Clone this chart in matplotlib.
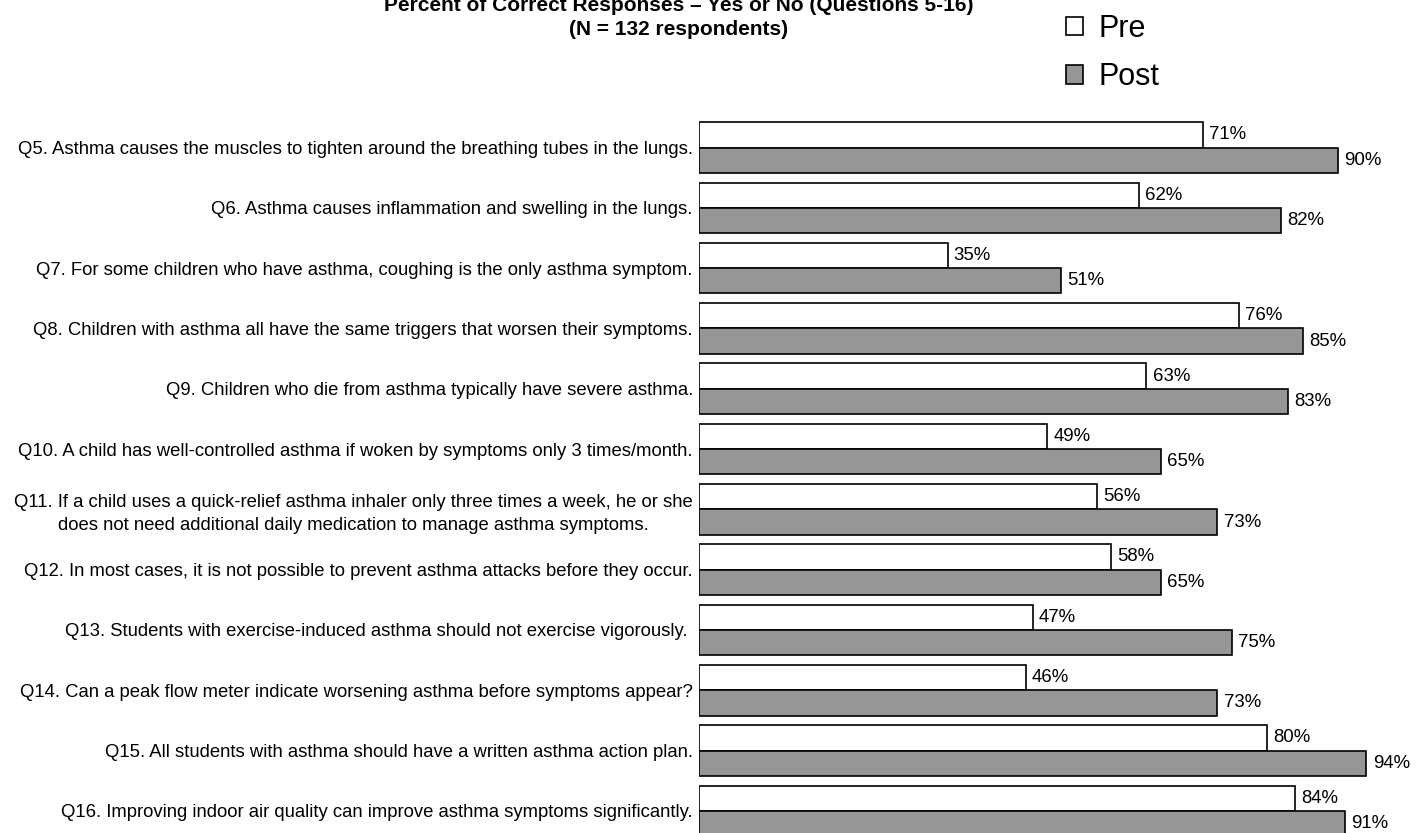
import matplotlib
matplotlib.use("Agg")
import matplotlib.pyplot as plt
import numpy as np

plt.rcParams['font.family'] = ['Liberation Sans', 'DejaVu Sans']

# percent of correct yes/no answers, before and after the training
questions = [
    "Q5. Asthma causes the muscles to tighten around the breathing tubes in the lungs.",
    "Q6. Asthma causes inflammation and swelling in the lungs.",
    "Q7. For some children who have asthma, coughing is the only asthma symptom.",
    "Q8. Children with asthma all have the same triggers that worsen their symptoms.",
    "Q9. Children who die from asthma typically have severe asthma.",
    "Q10. A child has well-controlled asthma if woken by symptoms only 3 times/month.",
    "Q11. If a child uses a quick-relief asthma inhaler only three times a week, he or she\n"
    "does not need additional daily medication to manage asthma symptoms.",
    "Q12. In most cases, it is not possible to prevent asthma attacks before they occur.",
    "Q13. Students with exercise-induced asthma should not exercise vigorously. ",
    "Q14. Can a peak flow meter indicate worsening asthma before symptoms appear?",
    "Q15. All students with asthma should have a written asthma action plan.",
    "Q16. Improving indoor air quality can improve asthma symptoms significantly.",
]
pre = [71, 62, 35, 76, 63, 49, 56, 58, 47, 46, 80, 84]
post = [90, 82, 51, 85, 83, 65, 73, 65, 75, 73, 94, 91]

fig = plt.figure(figsize=(14.24, 8.33), dpi=100)
ax = fig.add_axes([699 / 1424, 1 - 841 / 833, 710 / 1424, 723.6 / 833])

y = np.arange(len(questions))
h = 0.42
pre_bars = ax.barh(y - h / 2, pre, height=h, color='white', edgecolor='black',
                   linewidth=1.2, label='Pre')
post_bars = ax.barh(y + h / 2, post, height=h, color='#969696', edgecolor='black',
                    linewidth=1.2, label='Post')

ax.bar_label(pre_bars, labels=[f'{v}%' for v in pre], padding=4.5, fontsize=13.4)
ax.bar_label(post_bars, labels=[f'{v}%' for v in post], padding=4.5, fontsize=13.4)

ax.set_xlim(0, 100)
ax.set_ylim(len(questions) - 0.5, -0.5)
ax.set_yticks(y)
ax.set_yticklabels(questions, fontsize=13.3, linespacing=1.45)
for lbl in ax.get_yticklabels():
    lbl.set_multialignment('center')
ax.tick_params(axis='y', length=0, pad=4.5)
ax.set_xticks([])
for s in ax.spines.values():
    s.set_visible(False)

# title in two centred lines
fig.text(679 / 1424, 1 - 11 / 833, 'Percent of Correct Responses \u2013 Yes or No (Questions 5-16)',
         ha='center', va='baseline', fontsize=15, fontweight='bold')
fig.text(679 / 1424, 1 - 35 / 833, '(N = 132 respondents)',
         ha='center', va='baseline', fontsize=15, fontweight='bold')

fig.legend(handles=[pre_bars, post_bars], loc='upper left',
           bbox_to_anchor=(1066 / 1424, 1 - 14 / 833), frameon=False, fontsize=22,
           handlelength=0.55, handleheight=0.55, handletextpad=0.5,
           labelspacing=0.6, borderpad=0, borderaxespad=0)

fig.savefig('out.png', dpi=100)
